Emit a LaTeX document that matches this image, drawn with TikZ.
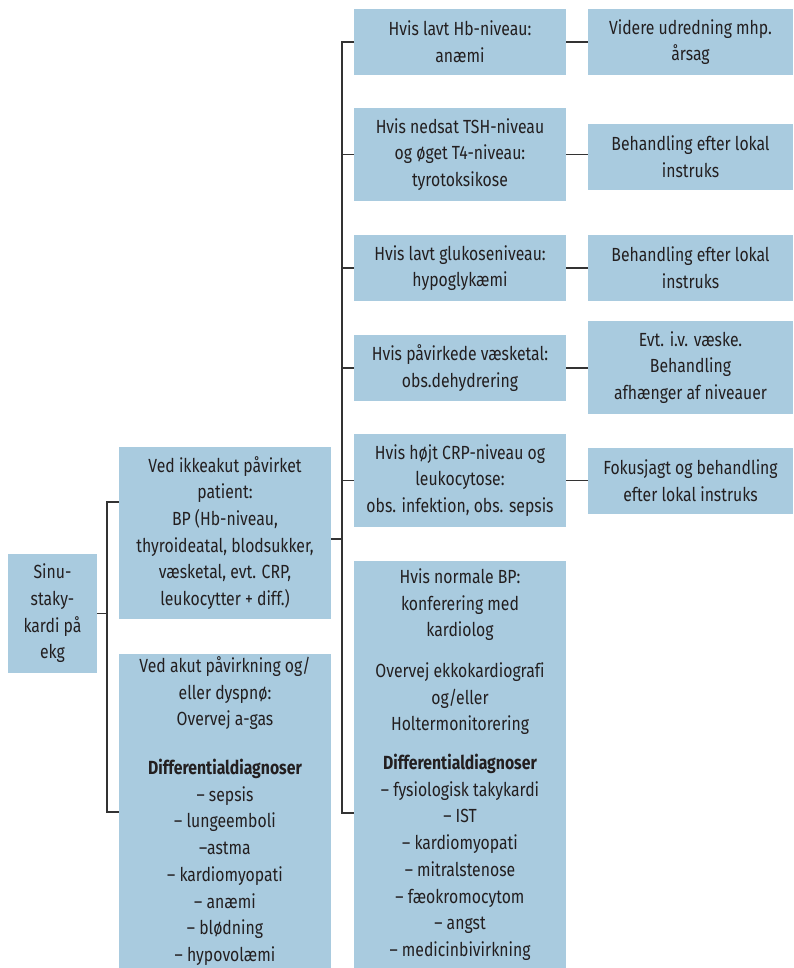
\documentclass[tikz,border=0pt]{standalone}
\usepackage{fontspec}
\setmainfont{Fira Sans}[FakeStretch=0.83,Ligatures=CommonOff]
\definecolor{boxblue}{RGB}{169,203,223}
\definecolor{txt}{RGB}{35,31,32}
\definecolor{linec}{RGB}{51,51,51}
\begin{document}
\begin{tikzpicture}[x=1pt,y=-1pt,
  box/.style={fill=boxblue, inner sep=0pt, outer sep=0pt, align=center,
    font=\fontsize{19}{26.7}\selectfont, text=txt, anchor=north west},
  link/.style={draw=linec, line width=1.2pt}]
\useasboundingbox (0,0) rectangle (793,968);

\node[box, minimum width=89, minimum height=119] (sinus) at (8,554) {Sinu-\\staky-\\kardi på\\ekg};
\node[box, minimum width=212, minimum height=172] (ikke) at (119,447) {Ved ikkeakut påvirket\\patient:\\BP (Hb-niveau,\\thyroideatal, blodsukker,\\væsketal, evt. CRP,\\leukocytter + diff.)};
\node[box, minimum width=212, minimum height=314] (akut) at (119,654) {Ved akut påvirkning og/\\eller dyspnø:\\Overvej a-gas\\[22pt]\textbf{Differentialdiagnoser}\\– sepsis\\– lungeemboli\\–astma\\– kardiomyopati\\– anæmi\\– blødning\\– hypovolæmi};

\node[box, minimum width=212, minimum height=66] (m1) at (354,9) {Hvis lavt Hb-niveau:\\anæmi};
\node[box, minimum width=212, minimum height=93] (m2) at (354,108) {Hvis nedsat TSH-niveau\\og øget T4-niveau:\\tyrotoksikose};
\node[box, minimum width=212, minimum height=66] (m3) at (354,235) {Hvis lavt glukoseniveau:\\hypoglykæmi};
\node[box, minimum width=212, minimum height=66] (m4) at (354,335) {Hvis påvirkede væsketal:\\obs.dehydrering};
\node[box, minimum width=212, minimum height=93] (m5) at (354,434) {Hvis højt CRP-niveau og\\leukocytose:\\obs. infektion, obs. sepsis};
\node[box, minimum width=212, minimum height=407] (m6) at (354,561) {Hvis normale BP:\\konferering med\\kardiolog\\[14pt]Overvej ekkokardiografi\\og/eller\\Holtermonitorering\\[12pt]\textbf{Differentialdiagnoser}\\– fysiologisk takykardi\\– IST\\– kardiomyopati\\– mitralstenose\\– fæokromocytom\\– angst\\– medicinbivirkning};

\node[box, minimum width=205, minimum height=66] (r1) at (588,9) {Videre udredning mhp.\\årsag};
\node[box, minimum width=205, minimum height=66] (r2) at (588,124) {Behandling efter lokal\\instruks};
\node[box, minimum width=205, minimum height=66] (r3) at (588,235) {Behandling efter lokal\\instruks};
\node[box, minimum width=205, minimum height=93] (r4) at (588,321) {Evt. i.v. væske.\\Behandling\\afhænger af niveauer};
\node[box, minimum width=205, minimum height=66] (r5) at (588,448) {Fokusjagt og behandling\\efter lokal instruks};

% left bracket
\coordinate (lt) at (107,502);
\coordinate (lb) at (107,812);
\draw[link] (sinus.east) -- (sinus.east -| lt);
\draw[link] (ikke.west |- lt) -- (lt) -- (lb) -- (akut.west |- lb);

% right bracket
\coordinate (rt) at (342,42);
\coordinate (rb) at (342,813);
\coordinate (rm) at (342,539);
\draw[link] (ikke.east |- rm) -- (rm);
\draw[link] (m1.west) -- (rt) -- (rb) -- (m6.west |- rb);
\draw[link] (m2.west) -- (m2.west -| rt);
\draw[link] (m3.west) -- (m3.west -| rt);
\draw[link] (m4.west) -- (m4.west -| rt);
\draw[link] (m5.west) -- (m5.west -| rt);

% right links
\draw[link] (m1.east) -- (m1.east -| r1.west);
\draw[link] (m2.east) -- (m2.east -| r2.west);
\draw[link] (m3.east) -- (m3.east -| r3.west);
\draw[link] (m4.east) -- (m4.east -| r4.west);
\draw[link] (m5.east) -- (m5.east -| r5.west);
\end{tikzpicture}
\end{document}
